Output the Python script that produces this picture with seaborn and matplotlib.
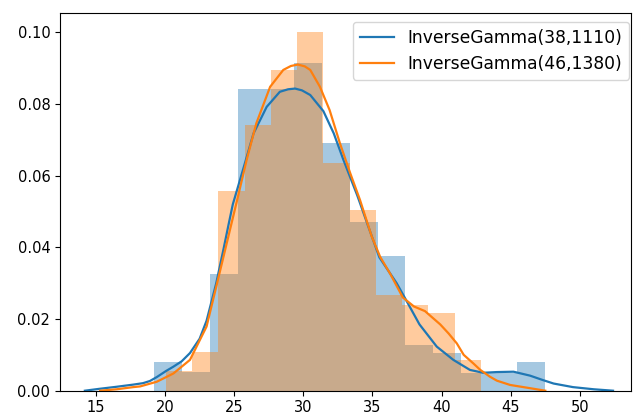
import matplotlib
matplotlib.use("Agg")
import matplotlib.pyplot as plt
import seaborn as sns
import numpy as np
import pandas as pd

# ---- data ----
blue_label = "InverseGamma(38,1110)"
orange_label = "InverseGamma(46,1380)"

blue_start, blue_width = 19.20, 2.021
blue_heights = [0.0080, 0.0053, 0.0327, 0.0843, 0.0843, 0.0915, 0.0690,
                0.0470, 0.0376, 0.0127, 0.0104, 0.0050, 0.0050, 0.0079]

orange_start, orange_width = 20.07, 1.897
orange_heights = [0.0055, 0.0109, 0.0558, 0.0740, 0.0896, 0.1001,
                  0.0634, 0.0504, 0.0267, 0.0239, 0.0216, 0.0086]

blue_kde_x = [14.2, 15.2, 16.5, 17.7, 18.4, 18.9, 19.4, 20.07, 20.6, 21.2,
              21.8, 22.5, 23.0, 23.7, 24.2, 24.6, 24.9, 25.7, 26.4, 27.35,
              28.3, 28.9, 29.4, 29.9, 30.5, 31.45, 32.2, 32.9, 33.9, 34.7,
              35.5, 36.75, 37.3, 38.4, 39.65, 40.85, 42.05, 43.0, 44.0, 45.2,
              46.4, 47.3, 48.1, 49.5, 51.0, 52.4]
blue_kde_y = [0.0, 0.0005, 0.0011, 0.0017, 0.0021, 0.0027, 0.0038, 0.0055,
              0.0067, 0.0082, 0.0105, 0.0145, 0.0195, 0.0300, 0.0390, 0.0465,
              0.0520, 0.0625, 0.0718, 0.0792, 0.0834, 0.0841, 0.0843, 0.0838,
              0.0825, 0.0780, 0.0718, 0.0644, 0.0545, 0.0458, 0.0372, 0.0300,
              0.0262, 0.0185, 0.0123, 0.0086, 0.0058, 0.0050, 0.0052, 0.0053,
              0.0042, 0.0030, 0.0020, 0.0010, 0.0004, 0.0]

orange_kde_x = [15.3, 16.5, 17.7, 18.2, 19.4, 20.6, 21.8, 23.0, 23.7, 24.45,
                25.2, 25.9, 26.6, 27.6, 28.55, 29.1, 29.6, 30.1, 30.5, 31.2,
                31.9, 32.65, 33.4, 34.1, 34.95, 35.55, 36.3, 37.2, 38.0, 38.8,
                39.9, 40.5, 41.1, 41.6, 42.3, 42.8, 43.5, 44.0, 44.96, 46.4,
                47.5]
orange_kde_y = [0.0, 0.0004, 0.0010, 0.0012, 0.0025, 0.0048, 0.0086, 0.0179,
                0.0290, 0.0410, 0.0530, 0.0644, 0.0746, 0.0848, 0.0895, 0.0906,
                0.0910, 0.0905, 0.0895, 0.0848, 0.0783, 0.0690, 0.0606, 0.0532,
                0.0430, 0.0374, 0.0325, 0.0260, 0.0235, 0.0222, 0.0185, 0.0160,
                0.0132, 0.0100, 0.0076, 0.0058, 0.0039, 0.0028, 0.0016, 0.0007,
                0.0]

xticks = [15, 20, 25, 30, 35, 40, 45, 50]
yticks = [0.00, 0.02, 0.04, 0.06, 0.08, 0.10]

blue = "#1f77b4"
orange = "#ff7f0e"

W, H = 635, 419
fig = plt.figure(figsize=(W / 100, H / 100), dpi=100)
ax = fig.add_axes([60 / W, 1 - 390.7 / H, (631 - 60) / W, (390.7 - 13.3) / H])


def hist(start, width, heights, color):
    n = len(heights)
    edges = start + width * np.arange(n + 1)
    centers = (edges[:-1] + edges[1:]) / 2
    df = pd.DataFrame({"x": centers, "w": heights})
    sns.histplot(data=df, x="x", weights="w", binwidth=width,
                 binrange=(edges[0], edges[-1]), stat="count",
                 color=color, alpha=0.4, linewidth=0, ax=ax)


hist(blue_start, blue_width, blue_heights, blue)
sns.lineplot(x=blue_kde_x, y=blue_kde_y, color=blue, linewidth=1.6,
             label=blue_label, ax=ax)
hist(orange_start, orange_width, orange_heights, orange)
sns.lineplot(x=orange_kde_x, y=orange_kde_y, color=orange, linewidth=1.6,
             label=orange_label, ax=ax)

ax.set_xlim(12.4, 53.7)
ax.set_ylim(0, 0.1053)
ax.set_xticks(xticks)
ax.set_yticks(yticks)
ax.set_yticklabels([f"{v:.2f}" for v in yticks])
ax.tick_params(labelsize=10.5)
ax.set_xlabel("")
ax.set_ylabel("")

ax.legend(loc="upper right", bbox_to_anchor=(629.3 / W, 1 - 21.7 / H),
          bbox_transform=fig.transFigure, borderaxespad=0, fontsize=12.3)

fig.savefig("out.png", dpi=100)
